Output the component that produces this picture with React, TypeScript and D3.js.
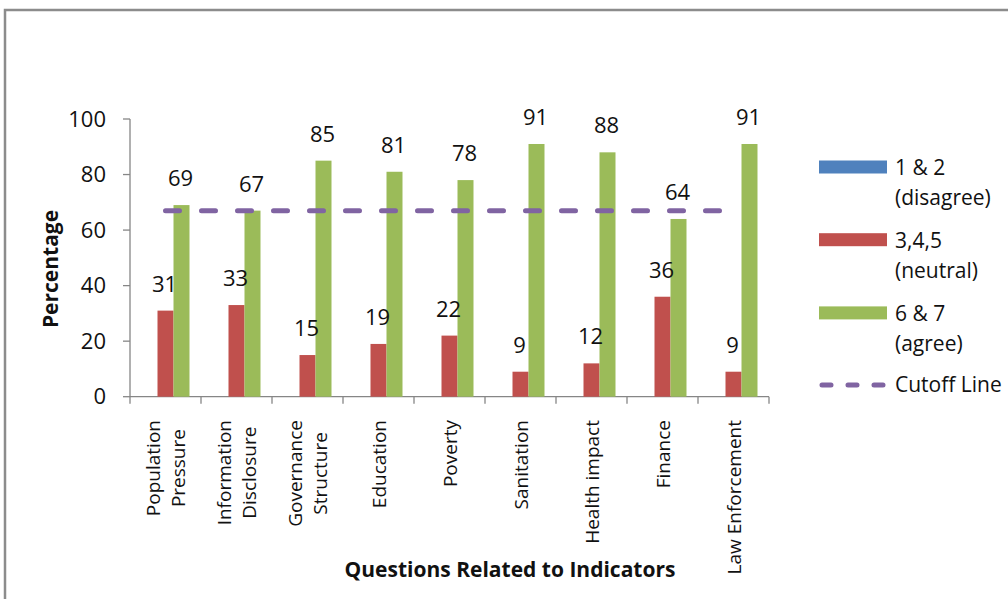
import React, { useEffect, useRef } from "react";
import * as d3 from "d3";

const categories: string[][] = [
  ["Population", "Pressure"],
  ["Information", "Disclosure"],
  ["Governance", "Structure"],
  ["Education"],
  ["Poverty"],
  ["Sanitation"],
  ["Health impact"],
  ["Finance"],
  ["Law Enforcement"],
];
const disagree = [0, 0, 0, 0, 0, 0, 0, 0, 0];
const neutral = [31, 33, 15, 19, 22, 9, 12, 36, 9];
const agree = [69, 67, 85, 81, 78, 91, 88, 64, 91];
const cutoff = [67, 67, 67, 67, 67, 67, 67, 67, 67];
const yTicks = [0, 20, 40, 60, 80, 100];
const seriesLabels: string[][] = [
  ["1 & 2", "(disagree)"],
  ["3,4,5", "(neutral)"],
  ["6 & 7", "(agree)"],
];
const cutoffLabel = "Cutoff Line";
const yTitle = "Percentage";
const xTitle = "Questions Related to Indicators";

const COLORS = ["#4F81BD", "#C0504D", "#9BBB59"];
const CUT_COLOR = "#8064A2";
const AXIS = "#868686";
const FONT = "'Open Sans', sans-serif";

export default function App() {
  const ref = useRef<SVGSVGElement>(null);

  useEffect(() => {
    const svg = d3.select(ref.current);
    svg.selectAll("*").remove();
    const W = 1008, H = 599;
    const left = 130, right = 769, top = 119, bottom = 396.7;

    svg.append("rect").attr("width", W).attr("height", H).attr("fill", "#fff");
    svg.append("rect").attr("x", 5).attr("y", 10).attr("width", 1020).attr("height", 620)
      .attr("fill", "none").attr("stroke", "#8c8c8c").attr("stroke-width", 2.5);

    const keys = categories.map((c) => c.join(" "));
    const x = d3.scaleBand<string>().domain(keys).range([left, right]).paddingInner(0.324).paddingOuter(0.162);
    const series = [disagree, neutral, agree];
    const xs = d3.scaleBand<number>().domain([0, 1, 2]).range([0, x.bandwidth()]);
    const y = d3.scaleLinear().domain([0, 100]).range([bottom, top]);

    // y axis
    const ya = svg.append("g");
    ya.append("line").attr("x1", left).attr("x2", left).attr("y1", y(0)).attr("y2", y(100))
      .attr("stroke", AXIS).attr("stroke-width", 1.3);
    yTicks.forEach((t) => {
      ya.append("line").attr("x1", left - 7).attr("x2", left).attr("y1", y(t)).attr("y2", y(t))
        .attr("stroke", AXIS).attr("stroke-width", 1.3);
      ya.append("text").attr("x", 106).attr("y", y(t)).attr("dy", "0.35em")
        .attr("text-anchor", "end").attr("font-family", FONT).attr("font-size", 22).attr("fill", "#111")
        .text(String(t));
    });

    // x axis
    svg.append("line").attr("x1", left).attr("x2", right).attr("y1", y(0)).attr("y2", y(0))
      .attr("stroke", AXIS).attr("stroke-width", 1.3);
    const step = x.step();
    for (let i = 0; i <= keys.length; i++) {
      const xx = left + i * step;
      svg.append("line").attr("x1", xx).attr("x2", xx).attr("y1", y(0)).attr("y2", y(0) + 7)
        .attr("stroke", AXIS).attr("stroke-width", 1.3);
    }

    // bars
    series.forEach((vals, si) => {
      vals.forEach((v, i) => {
        const bx = (x(keys[i]) as number) + (xs(si) as number);
        svg.append("rect").attr("x", bx).attr("y", y(v)).attr("width", xs.bandwidth())
          .attr("height", y(0) - y(v)).attr("fill", COLORS[si]);
      });
    });

    // value labels
    [1, 2].forEach((si) => {
      series[si].forEach((v, i) => {
        const cx = (x(keys[i]) as number) + (xs(si) as number) + xs.bandwidth() / 2 - 1;
        svg.append("text").attr("x", cx).attr("y", y(v) - 19).attr("text-anchor", "middle")
          .attr("font-family", FONT).attr("font-size", 22).attr("fill", "#111").text(String(v));
      });
    });

    // cutoff line
    const line = d3.line<number>()
      .x((_, i) => (x(keys[i]) as number) + x.bandwidth() / 2)
      .y((d) => y(d));
    svg.append("path").attr("d", line(cutoff) as string).attr("fill", "none")
      .attr("stroke", CUT_COLOR).attr("stroke-width", 5).attr("stroke-dasharray", "14 22")
      .attr("stroke-linecap", "round");

    // x category labels (rotated)
    categories.forEach((lines, i) => {
      const cx = (x(keys[i]) as number) + x.bandwidth() / 2;
      const g = svg.append("g").attr("transform", `translate(${cx},420) rotate(-90)`);
      const n = lines.length;
      const texts = lines.map((ln, li) =>
        g.append("text").attr("y", (li - (n - 1) / 2) * 25 + 7)
          .attr("font-family", FONT).attr("font-size", 19).attr("fill", "#111").text(ln)
      );
      const lens = texts.map((t) => (t.node() as SVGTextElement).getComputedTextLength());
      const L = Math.max(...lens);
      texts.forEach((t) => t.attr("text-anchor", "middle").attr("x", -L / 2));
    });

    // axis titles
    svg.append("text").attr("transform", `translate(58,269) rotate(-90)`).attr("text-anchor", "middle")
      .attr("font-family", FONT).attr("font-weight", "bold").attr("font-size", 21).attr("fill", "#111")
      .text(yTitle);
    svg.append("text").attr("x", 510).attr("y", 577).attr("text-anchor", "middle")
      .attr("font-family", FONT).attr("font-weight", "bold").attr("font-size", 21).attr("fill", "#111")
      .text(xTitle);

    // legend
    const lg = svg.append("g");
    const ly = [167, 239.7, 312.9];
    seriesLabels.forEach((lab, si) => {
      lg.append("rect").attr("x", 819).attr("y", ly[si] - 6.5).attr("width", 68).attr("height", 13)
        .attr("fill", COLORS[si]);
      lab.forEach((t, li) => {
        lg.append("text").attr("x", 895).attr("y", ly[si] + 8 + li * 30).attr("font-family", FONT)
          .attr("font-size", 21).attr("fill", "#111").text(t);
      });
    });
    lg.append("line").attr("x1", 822).attr("x2", 885).attr("y1", 385).attr("y2", 385)
      .attr("stroke", CUT_COLOR).attr("stroke-width", 5).attr("stroke-dasharray", "9 17")
      .attr("stroke-linecap", "round");
    lg.append("text").attr("x", 895).attr("y", 385).attr("dy", "0.35em").attr("font-family", FONT)
      .attr("font-size", 21).attr("fill", "#111").text(cutoffLabel);
  }, []);

  return (
    <svg ref={ref} width={1008} height={599}
      style={{ position: "absolute", left: 0, top: 0, display: "block" }} />
  );
}
